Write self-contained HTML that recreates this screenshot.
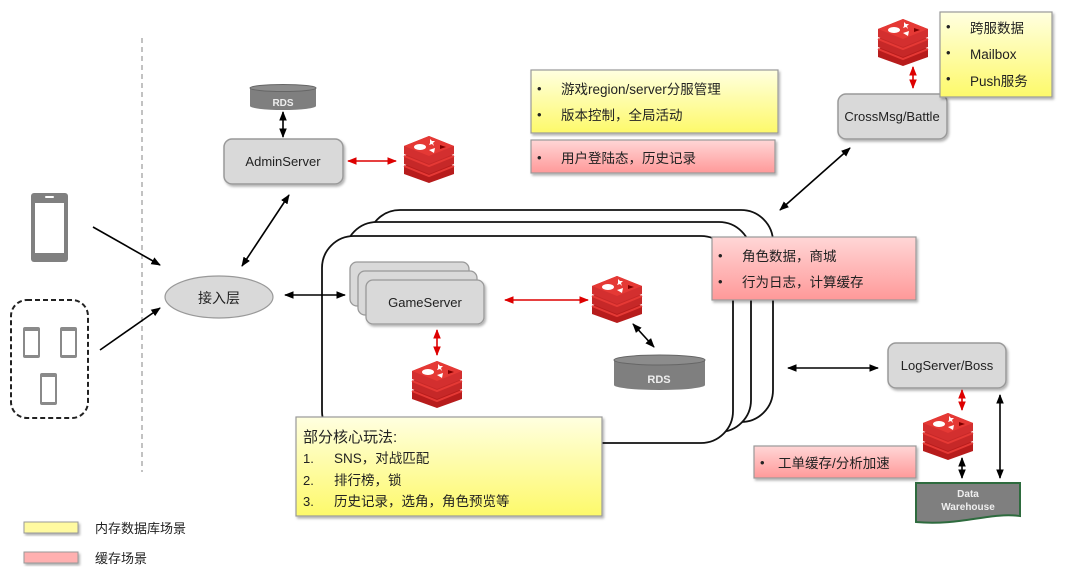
<!DOCTYPE html>
<html><head><meta charset="utf-8"><style>
html,body{margin:0;padding:0;background:#fff;}
body{width:1080px;height:578px;position:relative;overflow:hidden;font-family:"Liberation Sans","Noto Sans CJK SC",sans-serif;}
svg{position:absolute;left:0;top:0;}
text{font-family:"Liberation Sans","Noto Sans CJK SC",sans-serif;}
</style></head><body>
<svg width="1080" height="578" viewBox="0 0 1080 578">
<defs>
<marker id="ab" viewBox="0 0 10 10" refX="9" refY="5" markerWidth="6" markerHeight="6" orient="auto-start-reverse"><path d="M0,1 L10,5 L0,9 z" fill="#000"/></marker>
<marker id="ar" viewBox="0 0 10 10" refX="9" refY="5" markerWidth="6" markerHeight="6" orient="auto-start-reverse"><path d="M0,1 L10,5 L0,9 z" fill="#d00"/></marker>
<linearGradient id="gy" x1="0" y1="0" x2="0" y2="1"><stop offset="0" stop-color="#ffffe0"/><stop offset="1" stop-color="#fdf96a"/></linearGradient>
<linearGradient id="gp" x1="0" y1="0" x2="0" y2="1"><stop offset="0" stop-color="#ffd6d6"/><stop offset="1" stop-color="#f99"/></linearGradient>
<filter id="sh" x="-10%" y="-10%" width="130%" height="140%"><feDropShadow dx="1.5" dy="2" stdDeviation="1.2" flood-color="#000" flood-opacity="0.3"/></filter>
<g id="redis">
<path d="M0,30 L25,19 L50,30 L50,38 L25,47 L0,38 z" fill="#b71c1c"/>
<path d="M0,30 L25,40 L50,30" fill="none" stroke="#e53935" stroke-width="2"/>
<path d="M0,20 L25,9 L50,20 L50,28 L25,38 L0,28 z" fill="#c62828"/>
<path d="M0,20 L25,30 L50,20" fill="none" stroke="#e53935" stroke-width="2"/>
<path d="M0,10 L25,0 L50,10 L50,18 L25,28 L0,18 z" fill="#d32f2f"/>
<path d="M0,10 L25,20 L50,10 L25,0 z" fill="#e53935"/>
<ellipse cx="16" cy="11" rx="6" ry="3" fill="#fff"/>
<path d="M26,3 l2,2 l3,0 l-2,2 l1,3 l-2,-2 l-3,1 l1,-2 z" fill="#fff"/>
<path d="M25,14 l6,-2 l-1,5 z" fill="#fff"/>
<path d="M36,9 l6,2 l-6,2 z" fill="#7f0000"/>
</g>
</defs>

<line x1="142" y1="38" x2="142" y2="472" stroke="#999" stroke-width="1.2" stroke-dasharray="5,4"/>

<rect x="31" y="193" width="37" height="69" rx="3" fill="#808080"/>
<rect x="35" y="203" width="29" height="50" fill="#fff"/>
<rect x="45" y="196" width="9" height="2" rx="1" fill="#fff"/>
<rect x="11" y="300" width="77" height="118" rx="16" fill="none" stroke="#222" stroke-width="2" stroke-dasharray="5,3"/>
<g fill="#8a8a8a">
<rect x="23" y="327" width="17" height="31" rx="2"/><rect x="60" y="327" width="17" height="31" rx="2"/><rect x="40" y="373" width="17" height="32" rx="2"/>
</g>
<g fill="#fff">
<rect x="25" y="331" width="13" height="24"/><rect x="62" y="331" width="13" height="24"/><rect x="42" y="377" width="13" height="25"/>
</g>

<line x1="93" y1="227" x2="160" y2="265" stroke="#000" stroke-width="1.6" marker-end="url(#ab)"/>
<line x1="100" y1="350" x2="160" y2="308" stroke="#000" stroke-width="1.6" marker-end="url(#ab)"/>

<ellipse cx="219" cy="297" rx="54" ry="21" fill="#d9d9d9" stroke="#999" stroke-width="1.2"/>
<text x="219" y="303" font-size="14" text-anchor="middle" fill="#222">接入层</text>
<line x1="242" y1="266" x2="289" y2="195" stroke="#000" stroke-width="1.6" marker-start="url(#ab)" marker-end="url(#ab)"/>

<path d="M250,88 L250,106 A33,4 0 0 0 316,106 L316,88 z" fill="#7f7f7f"/>
<ellipse cx="283" cy="88" rx="33" ry="3.5" fill="#8c8c8c" stroke="#666"/>
<text x="283" y="106" font-size="10" font-weight="bold" text-anchor="middle" fill="#eee">RDS</text>
<line x1="283" y1="112" x2="283" y2="137" stroke="#000" stroke-width="1.6" marker-start="url(#ab)" marker-end="url(#ab)"/>
<rect x="224" y="139" width="119" height="45" rx="8" fill="#d9d9d9" stroke="#999" stroke-width="1.5" filter="url(#sh)"/>
<text x="283" y="166" font-size="13" text-anchor="middle" fill="#222">AdminServer</text>
<line x1="348" y1="161" x2="396" y2="161" stroke="#d00" stroke-width="1.6" marker-start="url(#ar)" marker-end="url(#ar)"/>
<use href="#redis" x="404" y="136"/>

<rect x="531" y="70" width="247" height="63" fill="url(#gy)" stroke="#999" stroke-width="1.2" filter="url(#sh)"/>
<text x="537" y="93" font-size="13" fill="#222">•</text><text x="561" y="94" font-size="13.5" fill="#222">游戏region/server分服管理</text>
<text x="537" y="119" font-size="13" fill="#222">•</text><text x="561" y="120" font-size="13.5" fill="#222">版本控制，全局活动</text>
<rect x="531" y="140" width="244" height="33" fill="url(#gp)" stroke="#999" stroke-width="1.2" filter="url(#sh)"/>
<text x="537" y="162" font-size="13" fill="#222">•</text><text x="561" y="163" font-size="13.5" fill="#222">用户登陆态，历史记录</text>

<rect x="368" y="210" width="405" height="212" rx="32" fill="#fff" stroke="#111" stroke-width="1.8"/>
<rect x="345" y="222" width="406" height="210" rx="32" fill="#fff" stroke="#111" stroke-width="1.8"/>
<rect x="322" y="236" width="411" height="207" rx="32" fill="#fff" stroke="#111" stroke-width="1.8"/>

<rect x="350" y="262" width="119" height="44" rx="7" fill="#d9d9d9" stroke="#999" stroke-width="1.3"/>
<rect x="358" y="271" width="119" height="44" rx="7" fill="#d9d9d9" stroke="#999" stroke-width="1.3"/>
<rect x="366" y="280" width="118" height="44" rx="7" fill="#d9d9d9" stroke="#999" stroke-width="1.3" filter="url(#sh)"/>
<text x="425" y="307" font-size="13" text-anchor="middle" fill="#222">GameServer</text>
<line x1="285" y1="295" x2="345" y2="295" stroke="#000" stroke-width="1.6" marker-start="url(#ab)" marker-end="url(#ab)"/>
<line x1="505" y1="300" x2="588" y2="300" stroke="#d00" stroke-width="1.6" marker-start="url(#ar)" marker-end="url(#ar)"/>
<use href="#redis" x="592" y="276"/>
<line x1="633" y1="324" x2="654" y2="347" stroke="#000" stroke-width="1.6" marker-start="url(#ab)" marker-end="url(#ab)"/>
<path d="M614,360 L614,385 A45,5 0 0 0 705,385 L705,360 z" fill="#7f7f7f"/>
<ellipse cx="659.5" cy="360" rx="45.5" ry="5" fill="#8c8c8c" stroke="#666"/>
<text x="659" y="383" font-size="11" font-weight="bold" text-anchor="middle" fill="#eee">RDS</text>
<line x1="437" y1="330" x2="437" y2="355" stroke="#d00" stroke-width="1.6" marker-start="url(#ar)" marker-end="url(#ar)"/>
<use href="#redis" x="412" y="361"/>

<rect x="712" y="237" width="204" height="63" fill="url(#gp)" stroke="#999" stroke-width="1.2" filter="url(#sh)"/>
<text x="718" y="260" font-size="13" fill="#222">•</text><text x="742" y="261" font-size="13.5" fill="#222">角色数据，商城</text>
<text x="718" y="286" font-size="13" fill="#222">•</text><text x="742" y="287" font-size="13.5" fill="#222">行为日志，计算缓存</text>

<line x1="780" y1="210" x2="850" y2="148" stroke="#000" stroke-width="1.6" marker-start="url(#ab)" marker-end="url(#ab)"/>
<rect x="838" y="94" width="109" height="45" rx="8" fill="#d9d9d9" stroke="#999" stroke-width="1.5" filter="url(#sh)"/>
<text x="892" y="121" font-size="13" text-anchor="middle" fill="#222">CrossMsg/Battle</text>
<use href="#redis" x="878" y="19"/>
<line x1="913" y1="67" x2="913" y2="88" stroke="#d00" stroke-width="1.6" marker-start="url(#ar)" marker-end="url(#ar)"/>
<rect x="940" y="12" width="112" height="85" fill="url(#gy)" stroke="#999" stroke-width="1.2" filter="url(#sh)"/>
<text x="946" y="31" font-size="13" fill="#222">•</text><text x="970" y="33" font-size="13.5" fill="#222">跨服数据</text>
<text x="946" y="57" font-size="13" fill="#222">•</text><text x="970" y="59" font-size="13.5" fill="#222">Mailbox</text>
<text x="946" y="83" font-size="13" fill="#222">•</text><text x="970" y="86" font-size="13.5" fill="#222">Push服务</text>

<line x1="788" y1="368" x2="878" y2="368" stroke="#000" stroke-width="1.6" marker-start="url(#ab)" marker-end="url(#ab)"/>
<rect x="888" y="343" width="118" height="45" rx="8" fill="#d9d9d9" stroke="#999" stroke-width="1.5" filter="url(#sh)"/>
<text x="947" y="370" font-size="13" text-anchor="middle" fill="#222">LogServer/Boss</text>
<line x1="962" y1="390" x2="962" y2="410" stroke="#d00" stroke-width="1.6" marker-start="url(#ar)" marker-end="url(#ar)"/>
<use href="#redis" x="923" y="413"/>
<line x1="962" y1="458" x2="962" y2="478" stroke="#000" stroke-width="1.6" marker-start="url(#ab)" marker-end="url(#ab)"/>
<line x1="1000" y1="395" x2="1000" y2="478" stroke="#000" stroke-width="1.6" marker-start="url(#ab)" marker-end="url(#ab)"/>
<path d="M916,483 L1020,483 L1020,516 C990,512 960,526 916,522 z" fill="#7f7f7f" stroke="#2e6b3e" stroke-width="2"/>
<text x="968" y="497" font-size="10" font-weight="bold" text-anchor="middle" fill="#eee">Data</text>
<text x="968" y="510" font-size="10" font-weight="bold" text-anchor="middle" fill="#eee">Warehouse</text>
<rect x="754" y="446" width="162" height="32" fill="url(#gp)" stroke="#999" stroke-width="1.2" filter="url(#sh)"/>
<text x="760" y="467" font-size="13" fill="#222">•</text><text x="778" y="468" font-size="13.5" fill="#222">工单缓存/分析加速</text>

<rect x="296" y="417" width="306" height="99" fill="url(#gy)" stroke="#999" stroke-width="1.2" filter="url(#sh)"/>
<text x="303" y="442" font-size="15" fill="#222">部分核心玩法:</text>
<text x="303" y="463" font-size="13" fill="#222">1.</text><text x="334" y="463" font-size="13.5" fill="#222">SNS，对战匹配</text>
<text x="303" y="485" font-size="13" fill="#222">2.</text><text x="334" y="485" font-size="13.5" fill="#222">排行榜，锁</text>
<text x="303" y="506" font-size="13" fill="#222">3.</text><text x="334" y="506" font-size="13.5" fill="#222">历史记录，选角，角色预览等</text>

<rect x="24" y="522" width="54" height="11" fill="#fffaa0" stroke="#999" filter="url(#sh)"/>
<text x="95" y="533" font-size="13" fill="#222">内存数据库场景</text>
<rect x="24" y="552" width="54" height="11" fill="#ffb0b0" stroke="#999" filter="url(#sh)"/>
<text x="95" y="563" font-size="13" fill="#222">缓存场景</text>
</svg>
</body></html>
